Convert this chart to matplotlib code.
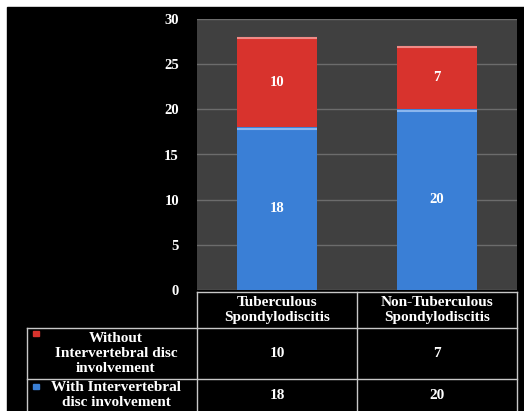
import matplotlib
matplotlib.use("Agg")
import matplotlib.pyplot as plt
import matplotlib.patches as mpatches
import numpy as np

# data
categories = ["Tuberculous\nSpondylodiscitis", "Non-Tuberculous\nSpondylodiscitis"]
with_disc = [18, 20]
without_disc = [10, 7]
series_labels = ["Without\nIntervertebral disc\ninvolvement",
                 "With Intervertebral\ndisc involvement"]
yticks = [0, 5, 10, 15, 20, 25, 30]

C_BLUE = "#3a7fd6"
C_RED = "#d8332d"
C_BG = "#404040"
C_GRID = "#6c6c6c"
C_LINE = "#c8c8c8"
FONT = ["Liberation Serif", "DejaVu Serif"]

W, H = 524, 411
fig = plt.figure(figsize=(W / 100, H / 100), dpi=100, facecolor="white")

# black slide background with thin white margin top/left
bg = fig.add_axes([0, 0, 1, 1])
bg.set_xlim(0, W)
bg.set_ylim(H, 0)
bg.axis("off")
bg.add_patch(mpatches.Rectangle((7, 7), W - 7, H - 7, color="black", zorder=0))

# plot area in pixel coords
L, R, T, B = 197, 517, 19, 290
ax = fig.add_axes([L / W, 1 - B / H, (R - L) / W, (B - T) / H])
ax.set_facecolor(C_BG)
x = np.arange(len(categories))
ax.bar(x, with_disc, 0.5, color=C_BLUE, zorder=3)
ax.bar(x, without_disc, 0.5, bottom=with_disc, color=C_RED, zorder=3)
# light top edges on segments
tops_b = np.array(with_disc)
tops_r = np.array(with_disc) + np.array(without_disc)
ax.hlines(tops_b - 0.15, x - 0.25, x + 0.25, color="#8ab6ee", lw=1.5, zorder=4)
ax.hlines(tops_r - 0.15, x - 0.25, x + 0.25, color="#f08a86", lw=1.5, zorder=4)

for i in range(len(x)):
    ax.text(x[i], with_disc[i] / 2, str(with_disc[i]), ha="center", va="center",
            color="white", fontsize=10.5, fontweight="bold", family=FONT, zorder=5)
    ax.text(x[i], with_disc[i] + without_disc[i] / 2, str(without_disc[i]),
            ha="center", va="center", color="white", fontsize=10.5,
            fontweight="bold", family=FONT, zorder=5)

ax.set_xlim(-0.5, len(categories) - 0.5)
ax.set_ylim(0, 30)
ax.set_yticks(yticks)
ax.set_yticklabels([str(v) for v in yticks], color="white", fontsize=10.5,
                   fontweight="bold", family=FONT)
ax.tick_params(axis="y", length=0, pad=13)
ax.set_xticks([])
ax.grid(axis="y", color=C_GRID, lw=1, zorder=0)
for s in ax.spines.values():
    s.set_visible(False)

# data table below the plot
col_x = [27, L, (L + R) / 2, R]
row_y = [292, 328, 379, 420]
kw = dict(color=C_LINE, lw=1, zorder=2)
bg.plot([L, R], [row_y[0], row_y[0]], **kw)
for yy in row_y[1:3]:
    bg.plot([col_x[0], R], [yy, yy], **kw)
bg.plot([col_x[0], col_x[0]], [row_y[1], H], **kw)
bg.plot([L, L], [row_y[0], H], **kw)
bg.plot([col_x[2], col_x[2]], [row_y[0], H], **kw)
bg.plot([R, R], [row_y[0], H], **kw)

tkw = dict(ha="center", va="center", color="white", fontsize=11,
           fontweight="bold", family=FONT, linespacing=1.2)
for j, cat in enumerate(categories):
    cx = (col_x[j + 1] + col_x[j + 2]) / 2
    bg.text(cx, (row_y[0] + row_y[1]) / 2, cat, **tkw)
    bg.text(cx, (row_y[1] + row_y[2]) / 2, str(without_disc[j]), **tkw)
    bg.text(cx, 395, str(with_disc[j]), **tkw)

bg.text(116, (row_y[1] + row_y[2]) / 2, series_labels[0], **tkw)
bg.text(116, 395, series_labels[1], **tkw)
bg.add_patch(mpatches.Rectangle((33, 331), 6, 5, color=C_RED, zorder=3))
bg.add_patch(mpatches.Rectangle((33, 384), 6, 5, color=C_BLUE, zorder=3))

fig.savefig("out.png", dpi=100, facecolor=fig.get_facecolor())
